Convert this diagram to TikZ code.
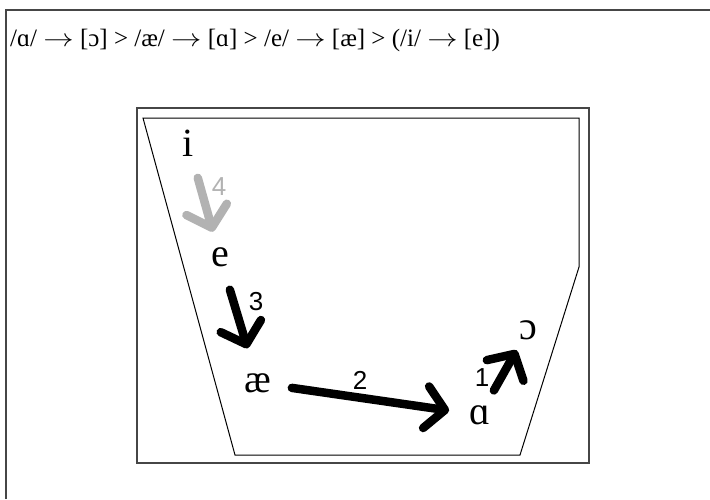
\documentclass[tikz,border=0pt]{standalone}
\usepackage{fontspec}
\setmainfont{Liberation Serif}
\newfontfamily\zahlfont{Liberation Sans}
\usetikzlibrary{arrows.meta}
\definecolor{rahmengrau}{RGB}{70,70,70}
\definecolor{hellgrau}{RGB}{178,178,178}
\newcommand{\pf}{\scalebox{1.22}[1]{$\rightarrow$}}

\begin{document}
\begin{tikzpicture}[x=1pt, y=-1pt, >={Straight Barb[length=19pt, width=42pt, round]},
	laut/.style={circle, inner sep=0pt, minimum size=44pt, font=\fontsize{40}{42}\selectfont},
	zahl/.style={inner sep=0pt, font=\zahlfont\fontsize{26}{28}\selectfont},
	pfeil/.style={->, line width=8.5pt, line cap=round}]
				\useasboundingbox (0,0) rectangle (710,499);
				% Rahmen zeichnen
				\draw[rahmengrau, line width=1.3pt] (6,499) -- (6,10) -- (710,10);
				\draw[rahmengrau, line width=1.3pt] (137,108) rectangle (589,463);
				% Ueberschrift
				\node[anchor=base west, inner sep=0pt, font=\fontsize{25}{28}\selectfont] (titel) at (10,46)
					{/ɑ/ \pf{} [ɔ] > /æ/ \pf{} [ɑ] > /e/ \pf{} [æ] > (/i/ \pf{} [e])};
				% Vokaltrapez
				\draw[line width=1pt] (143,118) -- (579,118) -- (579,267) -- (520,455) -- (235,455) -- cycle;
				% Laute
				\node[laut] (i) at (188,143) {i};
				\node[laut] (e) at (220,257) {e};
				\node[laut] (ae) at (258,383) {æ};
				\node[laut] (a) at (480,415) {ɑ};
				\node[laut] (o) at (528,330) {ɔ};
				% Pfeile zeichnen
				\draw[pfeil, hellgrau, shorten <=14pt, shorten >=4pt] (i) -- (e);
				\draw[pfeil, shorten <=12pt, shorten >=14pt] (e) -- (ae);
				\draw[pfeil, shorten <=12pt, shorten >=9pt] (ae) -- (a);
				\draw[pfeil, shorten <=6pt, shorten >=1pt] (a) -- (o);
				% Beschriftung
				\node[zahl, hellgrau] (n4) at (219,187) {4};
				\node[zahl] (n3) at (256,302) {3};
				\node[zahl] (n2) at (360,380) {2};
				\node[zahl] (n1) at (482,378) {1};
		\end{tikzpicture}
\end{document}
